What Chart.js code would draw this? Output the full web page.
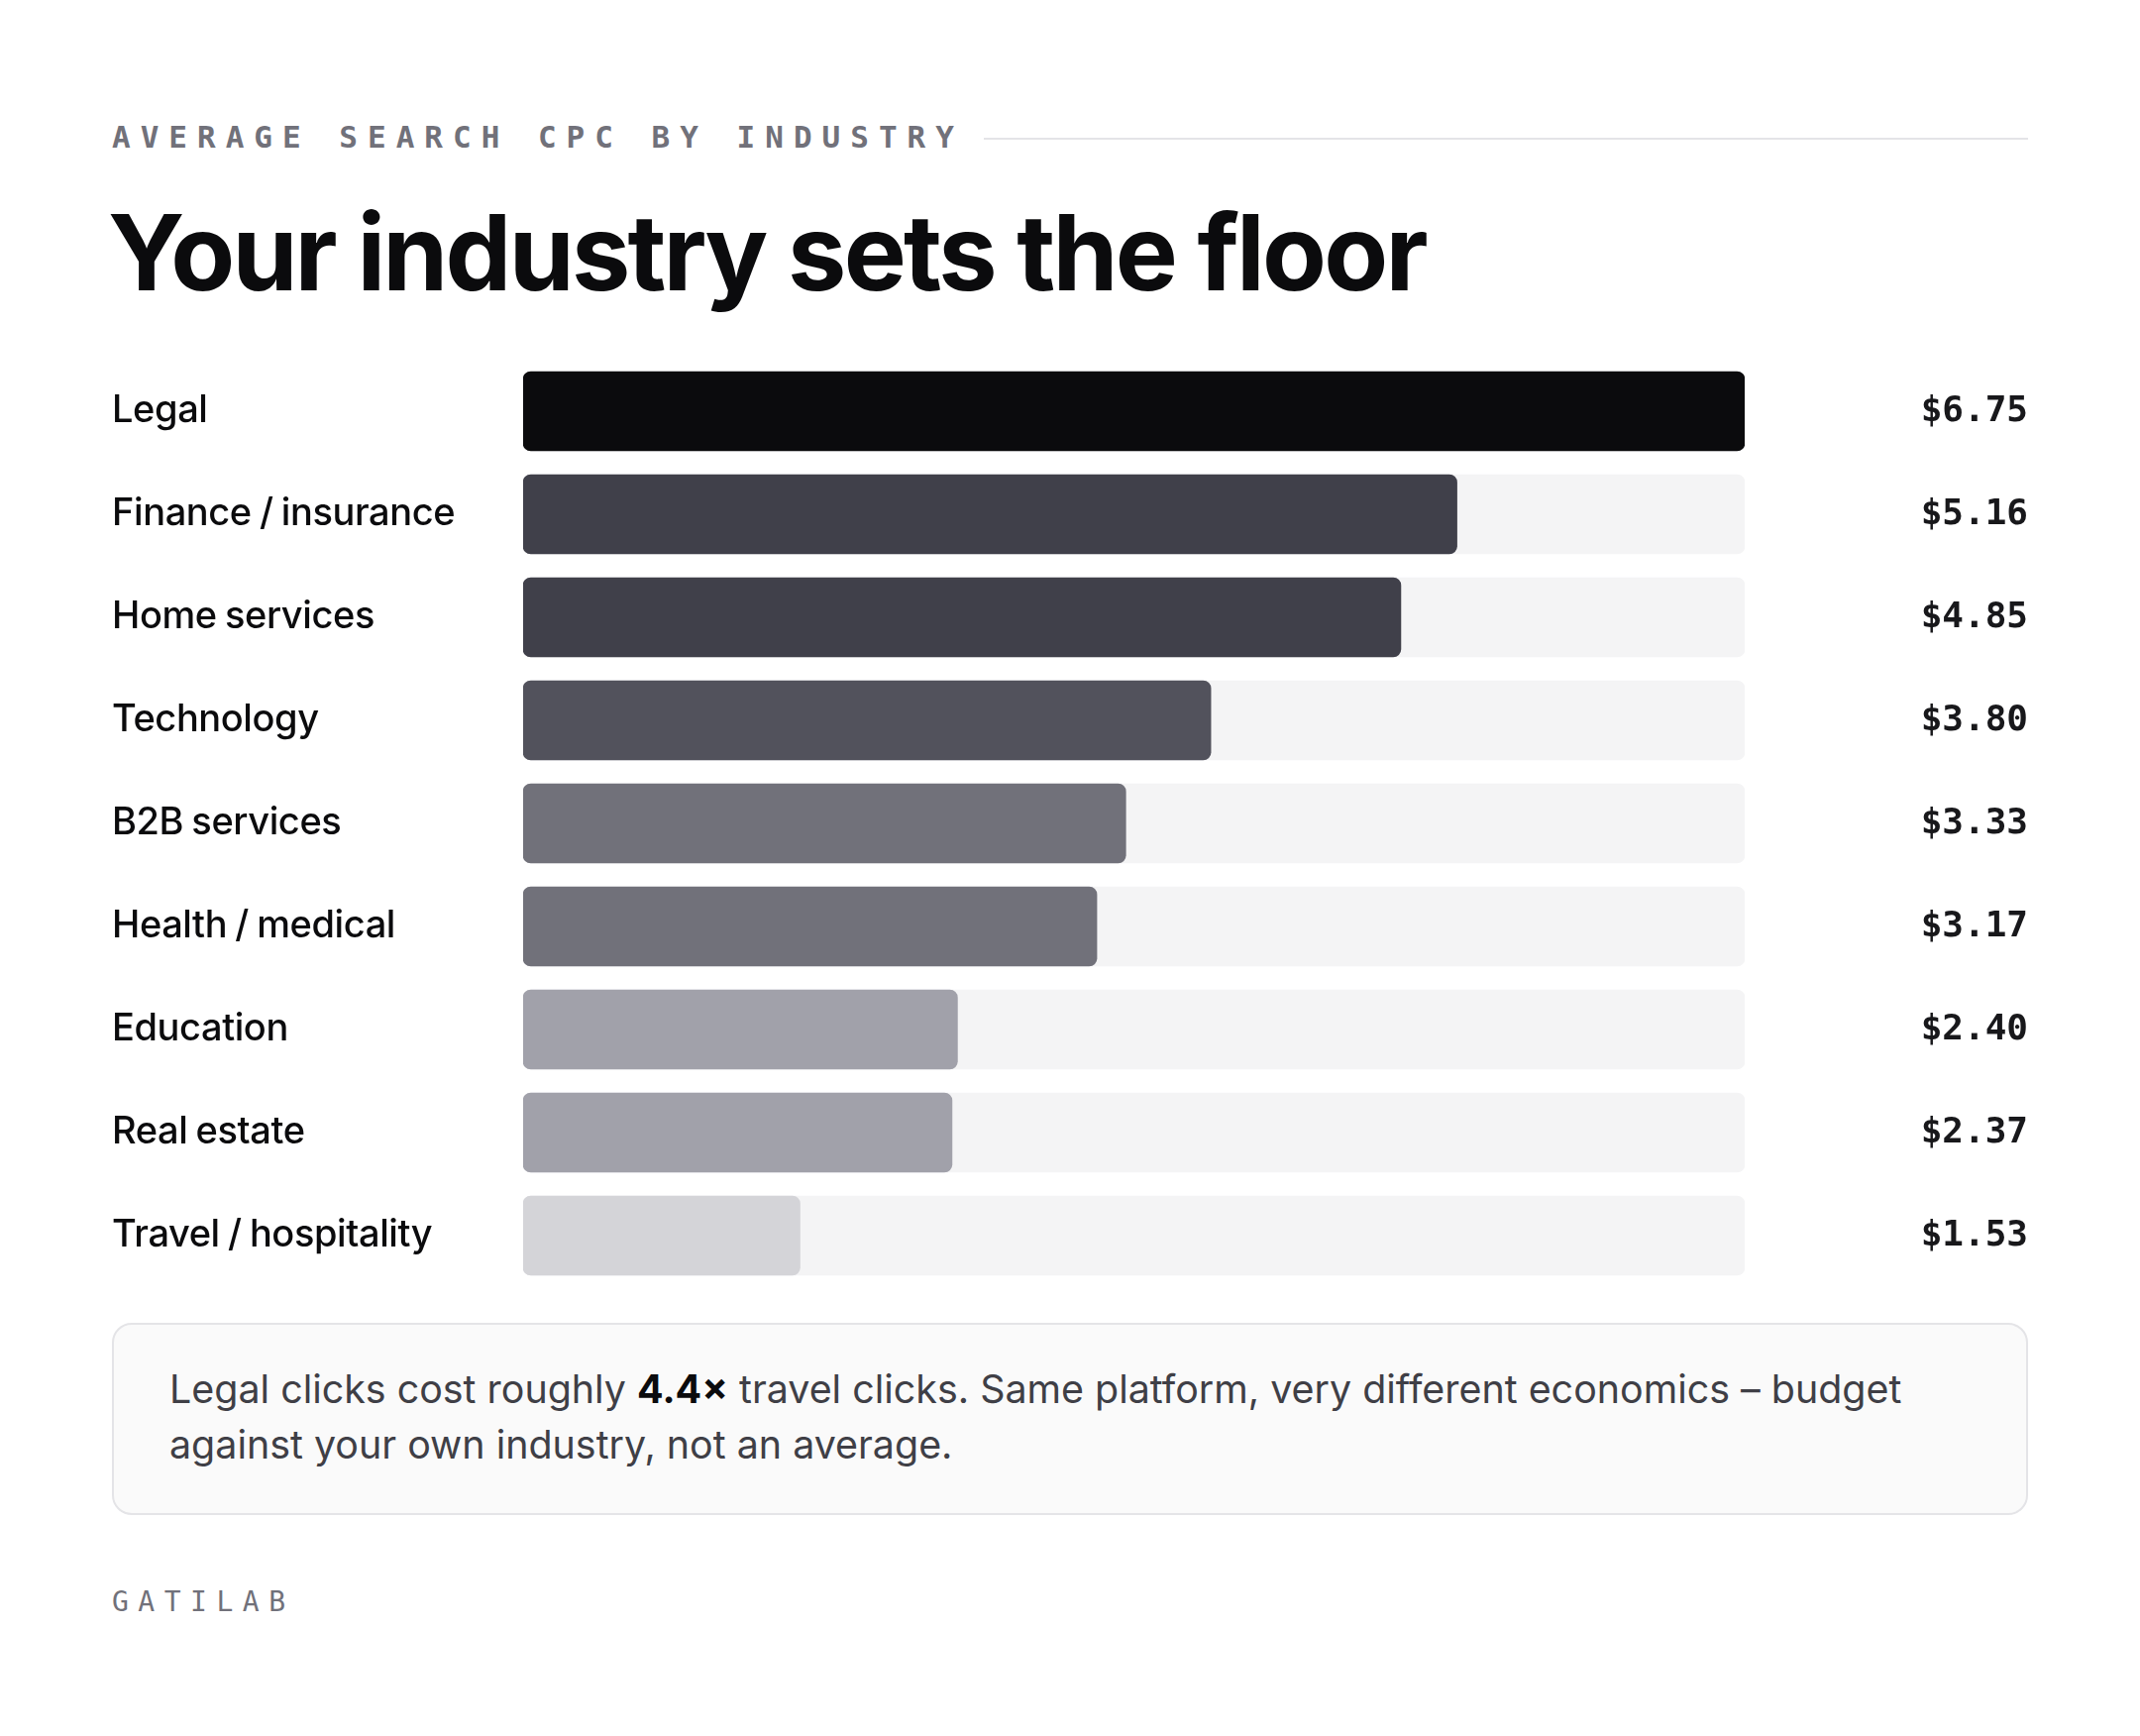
<!DOCTYPE html>
<html>
<head>
<meta charset="utf-8">
<script src="https://cdn.jsdelivr.net/npm/chart.js@4/dist/chart.umd.min.js"></script>
<style>
  html, body { margin: 0; padding: 0; background: #ffffff; }
  body { width: 2160px; height: 1752px; position: relative; font-family: Inter, "Noto Sans", sans-serif; }
  .eyebrow { position: absolute; left: 113px; top: 120px; width: 1934px; display: flex; align-items: center; }
  .eyebrow span { font-family: "DejaVu Sans Mono", monospace; font-weight: bold; font-size: 31px; line-height: 36px;
    letter-spacing: 10px; color: #71717a; white-space: nowrap; }
  .eyebrow .rule { flex: 1; height: 2px; background: #e4e4e7; margin-left: 20px; margin-top: 4px; }
  h1 { position: absolute; left: 109px; top: 190px; margin: 0; font-size: 106px; line-height: 130px; font-weight: 700;
    letter-spacing: -0.026em; color: #0b0b0d; white-space: nowrap; }
  #wrap { position: absolute; left: 113px; top: 341px; width: 1934px; height: 980px; }
  .note { position: absolute; left: 113px; top: 1335px; width: 1934px; height: 194px; box-sizing: border-box;
    background: #fafafa; border: 2px solid #e4e4e7; border-radius: 20px; padding: 37px 110px 30px 56px; font-size: 39.4px; line-height: 56px; color: #3f3f46; }
  .note b { color: #0b0b0d; font-weight: 700; }
  .foot { position: absolute; left: 113px; top: 1600px; font-family: "DejaVu Sans Mono", monospace; font-size: 28px;
    letter-spacing: 9.5px; color: #71717a; }
</style>
</head>
<body>
<div class="eyebrow"><span>AVERAGE SEARCH CPC BY INDUSTRY</span><div class="rule"></div></div>
<h1>Your industry sets the floor</h1>
<div id="wrap"><canvas id="cpcChart"></canvas></div>
<div class="note">Legal clicks cost roughly <b>4.4×</b> travel clicks. Same platform, very different economics – budget against your own industry, not an average.</div>
<div class="foot">GATILAB</div>
<script>
  // data
  var industries = ['Legal', 'Finance / insurance', 'Home services', 'Technology', 'B2B services',
    'Health / medical', 'Education', 'Real estate', 'Travel / hospitality'];
  var cpc = [6.75, 5.16, 4.85, 3.80, 3.33, 3.17, 2.40, 2.37, 1.53];
  var barColors = ['#0b0b0d', '#40404a', '#40404a', '#52525c', '#71717a', '#71717a', '#a1a1aa', '#a1a1aa', '#d4d4d8'];

  var maxCpc = Math.max.apply(null, cpc);
  var track = cpc.map(function () { return maxCpc; });

  // industry names on the left (tight tracking) and $ values on the right
  var rowText = {
    id: 'rowText',
    afterDatasetsDraw: function (chart) {
      var ctx = chart.ctx;
      var meta = chart.getDatasetMeta(0);
      ctx.save();
      ctx.textBaseline = 'middle';
      meta.data.forEach(function (bar, i) {
        ctx.font = '500 38px Inter, sans-serif';
        ctx.letterSpacing = '-0.4px';
        ctx.wordSpacing = '-1.5px';
        ctx.fillStyle = '#0b0b0d';
        ctx.textAlign = 'left';
        ctx.fillText(industries[i], 0, bar.y);

        ctx.font = 'bold 36px "DejaVu Sans Mono", monospace';
        ctx.letterSpacing = '0px';
        ctx.wordSpacing = '0px';
        ctx.fillStyle = '#18181b';
        ctx.textAlign = 'right';
        ctx.fillText('$' + cpc[i].toFixed(2), chart.width, bar.y + 1);
      });
      ctx.restore();
    }
  };

  new Chart(document.getElementById('cpcChart').getContext('2d'), {
    type: 'bar',
    data: {
      labels: industries,
      datasets: [{
        data: cpc,
        backgroundColor: barColors,
        borderRadius: 8,
        borderSkipped: false,
        barThickness: 80,
        grouped: false
      }, {
        data: track,
        backgroundColor: '#f4f4f5',
        borderRadius: 8,
        borderSkipped: false,
        barThickness: 80,
        grouped: false
      }]
    },
    options: {
      indexAxis: 'y',
      responsive: true,
      maintainAspectRatio: false,
      animation: false,
      layout: { padding: { left: 0, right: 286, top: 22, bottom: 22 } },
      plugins: { legend: { display: false }, tooltip: { enabled: false } },
      scales: {
        x: { display: false, min: 0, max: maxCpc },
        y: {
          grid: { display: false },
          border: { display: false },
          afterFit: function (scale) { scale.width = 415; },
          ticks: { display: false }
        }
      }
    },
    plugins: [rowText]
  });
</script>
</body>
</html>
